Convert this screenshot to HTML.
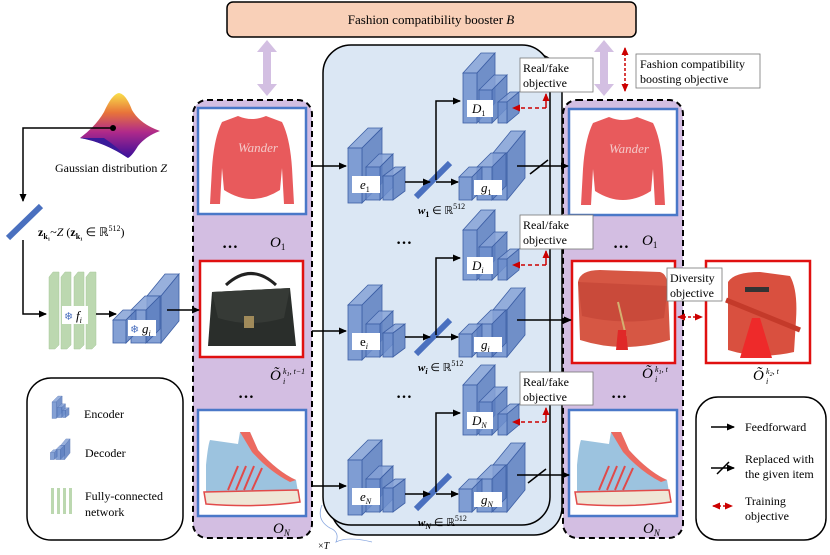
<!DOCTYPE html>
<html><head><meta charset="utf-8"><style>
html,body{margin:0;padding:0;background:#fff;}
svg{display:block;}
text{font-family:"Liberation Serif",serif;fill:#000;}
.m{font-style:italic;}
</style></head><body>
<svg width="830" height="555" viewBox="0 0 830 555" xmlns="http://www.w3.org/2000/svg">
<defs>
<marker id="ah" markerWidth="8" markerHeight="8" refX="7" refY="4" orient="auto" markerUnits="userSpaceOnUse"><path d="M0,0.5 L8,4 L0,7.5 z" fill="#000"/></marker>
<marker id="rh" markerWidth="8" markerHeight="8" refX="7" refY="4" orient="auto-start-reverse" markerUnits="userSpaceOnUse"><path d="M0,0.5 L8,4 L0,7.5 z" fill="#c00"/></marker>
<linearGradient id="gz" x1="0" y1="0" x2="0" y2="1"><stop offset="0" stop-color="#f9e04a"/><stop offset="0.3" stop-color="#e8743a"/><stop offset="0.6" stop-color="#b02a8a"/><stop offset="1" stop-color="#3a0e9a"/></linearGradient>
<g id="enc" stroke="#3d5fa5" stroke-width="0.8" fill-opacity="0.85">
 <polygon points="0,20 20,0 34,0 14,20" fill="#86a2d6"/>
 <polygon points="14,20 34,0 34,55 14,75" fill="#5d7fc0"/>
 <rect x="0" y="20" width="14" height="55" fill="#6f8fcc"/>
 <polygon points="18,39 31,26 45,26 32,39" fill="#86a2d6"/>
 <polygon points="32,39 45,26 45,59 32,72" fill="#5d7fc0"/>
 <rect x="18" y="39" width="14" height="33" fill="#6f8fcc"/>
 <polygon points="35,48 47,39 57,39 45,48" fill="#86a2d6"/>
 <polygon points="45,48 57,39 57,63 45,72" fill="#5d7fc0"/>
 <rect x="35" y="48" width="10" height="24" fill="#6f8fcc"/>
</g>
<g id="dec" stroke="#3d5fa5" stroke-width="0.8" fill-opacity="0.85">
 <polygon points="35,15 53,-7 67,-7 49,15" fill="#86a2d6"/>
 <polygon points="49,15 67,-7 67,40 49,62" fill="#5d7fc0"/>
 <rect x="35" y="15" width="14" height="47" fill="#6f8fcc"/>
 <polygon points="19,29 33,15 48,15 34,29" fill="#86a2d6"/>
 <polygon points="34,29 48,15 48,48 34,62" fill="#5d7fc0"/>
 <rect x="19" y="29" width="15" height="33" fill="#6f8fcc"/>
 <polygon points="1,39 11,29 24,29 14,39" fill="#86a2d6"/>
 <polygon points="14,39 24,29 24,52 14,62" fill="#5d7fc0"/>
 <rect x="1" y="39" width="13" height="23" fill="#6f8fcc"/>
</g>
<g id="dis" stroke="#3d5fa5" stroke-width="0.8" fill-opacity="0.85">
 <polygon points="1,20 19,0 33,0 15,20" fill="#86a2d6"/>
 <polygon points="15,20 33,0 33,50 15,70" fill="#5d7fc0"/>
 <rect x="1" y="20" width="14" height="50" fill="#6f8fcc"/>
 <polygon points="17,37 32,22 45,22 30,37" fill="#86a2d6"/>
 <polygon points="30,37 45,22 45,55 30,70" fill="#5d7fc0"/>
 <rect x="17" y="37" width="13" height="33" fill="#6f8fcc"/>
 <polygon points="36,49 48,39 57,39 45,49" fill="#86a2d6"/>
 <polygon points="45,49 57,39 57,60 45,70" fill="#5d7fc0"/>
 <rect x="36" y="49" width="9" height="21" fill="#6f8fcc"/>
</g>
<g id="shirt">
 <rect x="0" y="0" width="108" height="106" fill="#fff" stroke="#4a78c8" stroke-width="2.5"/>
 <path d="M40,8 Q54,14 68,8 L84,14 Q92,30 94,60 L96,96 L86,96 L84,60 L82,82 Q54,100 26,82 L24,60 L22,96 L12,96 L14,60 Q16,30 24,14 Z" fill="#e85a5c"/>
 <text x="40" y="44" font-size="13" font-style="italic" style="fill:#f4c8c8">Wander</text>
</g>
<g id="shoe">
 <rect x="0" y="0" width="108" height="106" fill="#fff" stroke="#4a78c8" stroke-width="2.5"/>
 <path d="M8,55 Q10,35 12,30 L40,34 L42,22 L52,22 L60,40 Q80,62 98,70 L100,82 L8,84 Z" fill="#9cc3df"/>
 <path d="M42,22 L52,22 L60,40 Q80,62 98,70 L92,72 Q72,62 54,42 Z" fill="#ec6a60"/>
 <path d="M6,82 L100,80 L102,92 Q60,98 8,94 Z" fill="#efe6d6" stroke="#e24a4a" stroke-width="1.5"/>
 <path d="M30,80 L40,56 M38,80 L48,56 M46,80 L56,56 M54,80 L64,58" stroke="#e04a4a" stroke-width="2"/>
</g>
</defs>

<rect x="227" y="2" width="409" height="35" rx="6" fill="#f9d0b8" stroke="#000" stroke-width="1.5"/>
<text x="431" y="24" font-size="13" text-anchor="middle">Fashion compatibility booster <tspan class="m">B</tspan></text>

<g fill="#d3bfe2">
 <polygon points="267,40 277,52 271,52 271,84 277,84 267,96 257,84 263,84 263,52 257,52"/>
 <polygon points="604,40 614,52 608,52 608,84 614,84 604,96 594,84 600,84 600,52 594,52"/>
</g>
<line x1="625" y1="48" x2="625" y2="91" stroke="#c00" stroke-width="1.5" stroke-dasharray="3,2" marker-start="url(#rh)" marker-end="url(#rh)"/>
<rect x="636" y="54" width="124" height="34" fill="#fff" stroke="#777" stroke-width="0.8"/>
<text x="640" y="68" font-size="12">Fashion compatibility</text>
<text x="640" y="83" font-size="12">boosting objective</text>

<rect x="331" y="54" width="231" height="481" rx="28" fill="#dbe7f4" stroke="#000" stroke-width="1.5"/>
<rect x="323" y="45" width="227" height="480" rx="28" fill="#dbe7f4" stroke="#000" stroke-width="1.5"/>

<rect x="193" y="100" width="119" height="438" rx="14" fill="#d3bee2" stroke="#000" stroke-width="2" stroke-dasharray="6,4"/>
<use href="#shirt" x="198" y="108"/>
<text x="222" y="248" font-size="16" font-weight="bold">…</text>
<text x="270" y="247" font-size="15" class="m">O<tspan font-size="9" dy="3" font-style="normal">1</tspan></text>
<rect x="200" y="261" width="103" height="96" fill="#fff" stroke="#e01010" stroke-width="2.5"/>
<path d="M226,285 Q251,262 276,285" fill="none" stroke="#222" stroke-width="3"/>
<path d="M212,292 L290,288 L296,346 L208,346 Z" fill="#2a2e2b"/>
<path d="M212,292 L290,288 L284,318 Q250,328 218,318 Z" fill="#363a36"/>
<rect x="244" y="316" width="10" height="12" fill="#a08a5a"/>
<text x="270" y="380" font-size="15" class="m">Õ</text><text x="283" y="374" font-size="8" class="m">k<tspan font-size="6" dy="2">1</tspan><tspan dy="-2">, t−1</tspan></text><text x="283" y="384" font-size="8" class="m">i</text>
<text x="238" y="398" font-size="16" font-weight="bold">…</text>
<use href="#shoe" x="198" y="410"/>
<text x="273" y="533" font-size="15" class="m">O<tspan font-size="9" dy="3">N</tspan></text>

<rect x="563" y="100" width="120" height="438" rx="14" fill="#d3bee2" stroke="#000" stroke-width="2" stroke-dasharray="6,4"/>
<use href="#shirt" x="569" y="109"/>
<text x="613" y="248" font-size="16" font-weight="bold">…</text>
<text x="642" y="245" font-size="15" class="m">O<tspan font-size="9" dy="3" font-style="normal">1</tspan></text>
<rect x="572" y="261" width="103" height="102" fill="#fff" stroke="#e01010" stroke-width="2.5"/>
<path d="M578,282 Q580,270 600,270 L660,272 Q668,274 668,290 L670,340 Q624,354 580,340 Z" fill="#d65744"/>
<path d="M578,282 L668,286 L664,318 Q624,326 582,316 Z" fill="#c94a3a"/>
<path d="M618,302 L626,336" stroke="#d4b070" stroke-width="2"/>
<path d="M618,330 L626,330 L628,350 L616,350 Z" fill="#e02828"/>
<text x="642" y="378" font-size="15" class="m">Õ</text><text x="655" y="372" font-size="8" class="m">k<tspan font-size="6" dy="2">1</tspan><tspan dy="-2">, t</tspan></text><text x="655" y="382" font-size="8" class="m">i</text>
<text x="611" y="398" font-size="16" font-weight="bold">…</text>
<use href="#shoe" x="569" y="410"/>
<text x="643" y="533" font-size="15" class="m">O<tspan font-size="9" dy="3">N</tspan></text>

<rect x="706" y="261" width="104" height="102" fill="#fff" stroke="#e01010" stroke-width="2.5"/>
<path d="M728,282 Q734,272 760,272 L790,276 Q798,290 796,320 L794,352 Q760,360 728,350 Z" fill="#d9503f"/>
<path d="M726,300 L800,330" stroke="#c43a2a" stroke-width="5"/>
<path d="M752,318 L740,358 L772,358 L760,318 Z" fill="#ee2a2a"/>
<rect x="745" y="287" width="24" height="5" fill="#333"/>
<text x="753" y="380" font-size="15" class="m">Õ</text><text x="766" y="374" font-size="8" class="m">k<tspan font-size="6" dy="2">2</tspan><tspan dy="-2">, t</tspan></text><text x="766" y="384" font-size="8" class="m">i</text>
<rect x="667" y="268" width="55" height="33" fill="#fff" stroke="#777" stroke-width="0.8"/>
<text x="670" y="282" font-size="12">Diversity</text>
<text x="670" y="297" font-size="12">objective</text>
<line x1="678" y1="317" x2="702" y2="317" stroke="#c00" stroke-width="1.5" stroke-dasharray="3,2" marker-start="url(#rh)" marker-end="url(#rh)"/>

<g>
 <use href="#enc" x="348" y="128"/>
 <rect x="352" y="176" width="28" height="17" fill="#fff"/>
 <text x="360" y="189" font-size="13" class="m">e<tspan font-size="8" dy="3" font-style="normal">1</tspan></text>
 <use href="#dis" x="462" y="53"/>
 <rect x="467" y="100" width="26" height="17" fill="#fff"/>
 <text x="472" y="113" font-size="13" class="m">D<tspan font-size="8" dy="3" font-style="normal">1</tspan></text>
 <use href="#dec" x="458" y="138"/>
 <rect x="474" y="180" width="28" height="15" fill="#fff"/>
 <text x="481" y="192" font-size="13" class="m">g<tspan font-size="8" dy="3" font-style="normal">1</tspan></text>
 <line x1="416" y1="197" x2="450" y2="163" stroke="#4a70bf" stroke-width="6"/>
 <text x="418" y="214" font-size="11" font-weight="bold" class="m">w<tspan font-size="8" dy="3" font-style="normal">1</tspan><tspan dy="-3" font-weight="normal" font-style="normal"> ∈ ℝ</tspan><tspan font-size="8" dy="-5" font-weight="normal" font-style="normal">512</tspan></text>
 <line x1="312" y1="166" x2="346" y2="166" stroke="#000" stroke-width="1.5" marker-end="url(#ah)"/>
 <line x1="405" y1="182" x2="430" y2="182" stroke="#000" stroke-width="1.5" marker-end="url(#ah)"/>
 <line x1="436" y1="182" x2="458" y2="182" stroke="#000" stroke-width="1.5" marker-end="url(#ah)"/>
 <polyline points="436,180 436,101 460,101" fill="none" stroke="#000" stroke-width="1.5" marker-end="url(#ah)"/>
 <line x1="517" y1="166" x2="568" y2="166" stroke="#000" stroke-width="1.5" marker-end="url(#ah)"/>
 <line x1="530" y1="174" x2="548" y2="160" stroke="#000" stroke-width="1.5"/>
 <rect x="520" y="58" width="73" height="34" fill="#fff" stroke="#777" stroke-width="0.8"/>
 <text x="523" y="72" font-size="12">Real/fake</text>
 <text x="523" y="87" font-size="12">objective</text>
 <polyline points="546,108 546,94" fill="none" stroke="#c00" stroke-width="1.5" marker-end="url(#rh)"/>
 <line x1="546" y1="108" x2="513" y2="108" stroke="#c00" stroke-width="1.5" stroke-dasharray="4,3" marker-end="url(#rh)"/>
</g>
<g transform="translate(0,157)">
 <use href="#enc" x="348" y="128"/>
 <rect x="352" y="176" width="28" height="17" fill="#fff"/>
 <text x="360" y="189" font-size="13">e<tspan font-size="8" dy="3" class="m">i</tspan></text>
 <use href="#dis" x="462" y="53"/>
 <rect x="467" y="100" width="26" height="17" fill="#fff"/>
 <text x="472" y="113" font-size="13" class="m">D<tspan font-size="8" dy="3">i</tspan></text>
 <use href="#dec" x="458" y="138"/>
 <rect x="474" y="180" width="28" height="15" fill="#fff"/>
 <text x="481" y="192" font-size="13" class="m">g<tspan font-size="8" dy="3">i</tspan></text>
 <line x1="416" y1="197" x2="450" y2="163" stroke="#4a70bf" stroke-width="6"/>
 <text x="418" y="214" font-size="11" font-weight="bold" class="m">w<tspan font-size="8" dy="3">i</tspan><tspan dy="-3" font-weight="normal" font-style="normal"> ∈ ℝ</tspan><tspan font-size="8" dy="-5" font-weight="normal" font-style="normal">512</tspan></text>
 <line x1="312" y1="174" x2="346" y2="174" stroke="#000" stroke-width="1.5" marker-end="url(#ah)"/>
 <line x1="405" y1="180" x2="430" y2="180" stroke="#000" stroke-width="1.5" marker-end="url(#ah)"/>
 <line x1="436" y1="180" x2="458" y2="180" stroke="#000" stroke-width="1.5" marker-end="url(#ah)"/>
 <polyline points="436,178 436,101 460,101" fill="none" stroke="#000" stroke-width="1.5" marker-end="url(#ah)"/>
 <line x1="517" y1="163" x2="571" y2="163" stroke="#000" stroke-width="1.5" marker-end="url(#ah)"/>
 <rect x="520" y="58" width="73" height="34" fill="#fff" stroke="#777" stroke-width="0.8"/>
 <text x="523" y="72" font-size="12">Real/fake</text>
 <text x="523" y="87" font-size="12">objective</text>
 <polyline points="546,108 546,94" fill="none" stroke="#c00" stroke-width="1.5" marker-end="url(#rh)"/>
 <line x1="546" y1="108" x2="513" y2="108" stroke="#c00" stroke-width="1.5" stroke-dasharray="4,3" marker-end="url(#rh)"/>
</g>
<g transform="translate(0,312)">
 <use href="#enc" x="348" y="128"/>
 <rect x="352" y="176" width="28" height="17" fill="#fff"/>
 <text x="360" y="189" font-size="13" class="m">e<tspan font-size="8" dy="3">N</tspan></text>
 <use href="#dis" x="462" y="53"/>
 <rect x="467" y="100" width="26" height="17" fill="#fff"/>
 <text x="472" y="113" font-size="13" class="m">D<tspan font-size="8" dy="3">N</tspan></text>
 <use href="#dec" x="458" y="138"/>
 <rect x="474" y="180" width="28" height="15" fill="#fff"/>
 <text x="481" y="192" font-size="13" class="m">g<tspan font-size="8" dy="3">N</tspan></text>
 <line x1="416" y1="197" x2="450" y2="163" stroke="#4a70bf" stroke-width="6"/>
 <text x="418" y="214" font-size="11" font-weight="bold" class="m">w<tspan font-size="8" dy="3">N</tspan><tspan dy="-3" font-weight="normal" font-style="normal"> ∈ ℝ</tspan><tspan font-size="8" dy="-5" font-weight="normal" font-style="normal">512</tspan></text>
 <line x1="312" y1="174" x2="346" y2="174" stroke="#000" stroke-width="1.5" marker-end="url(#ah)"/>
 <line x1="405" y1="182" x2="430" y2="182" stroke="#000" stroke-width="1.5" marker-end="url(#ah)"/>
 <line x1="436" y1="182" x2="458" y2="182" stroke="#000" stroke-width="1.5" marker-end="url(#ah)"/>
 <polyline points="436,180 436,101 460,101" fill="none" stroke="#000" stroke-width="1.5" marker-end="url(#ah)"/>
 <line x1="517" y1="163" x2="569" y2="163" stroke="#000" stroke-width="1.5" marker-end="url(#ah)"/>
 <line x1="528" y1="171" x2="546" y2="157" stroke="#000" stroke-width="1.5"/>
 <rect x="520" y="60" width="73" height="33" fill="#fff" stroke="#777" stroke-width="0.8"/>
 <text x="523" y="74" font-size="12">Real/fake</text>
 <text x="523" y="89" font-size="12">objective</text>
 <polyline points="546,110 546,96" fill="none" stroke="#c00" stroke-width="1.5" marker-end="url(#rh)"/>
 <line x1="546" y1="110" x2="513" y2="110" stroke="#c00" stroke-width="1.5" stroke-dasharray="4,3" marker-end="url(#rh)"/>
</g>
<text x="396" y="244" font-size="16" font-weight="bold">…</text>
<text x="396" y="398" font-size="16" font-weight="bold">…</text>

<path d="M322,505 Q316,520 330,528 Q340,532 336,542 Q348,536 372,542" fill="none" stroke="#8aa8e0" stroke-width="0.8"/>
<text x="318" y="549" font-size="10">×<tspan class="m">T</tspan></text>

<!-- gaussian -->
<path d="M80,138 Q96,126 104,112 Q112,94 119,93 Q126,94 132,110 Q140,124 160,131 Q146,136 138,146 Q132,156 128,158 Q104,142 80,138 Z" fill="url(#gz)"/>
<path d="M80,138 Q104,142 128,158 Q116,146 104,138 Z" fill="#3a1a9a"/>
<text x="55" y="172" font-size="12">Gaussian distribution <tspan class="m">Z</tspan></text>
<circle cx="113" cy="128" r="3" fill="#000"/>
<polyline points="113,128 23,128 23,201" fill="none" stroke="#000" stroke-width="1.5" marker-end="url(#ah)"/>
<line x1="8" y1="238" x2="41" y2="206" stroke="#4a70bf" stroke-width="6"/>
<text x="38" y="236" font-size="12"><tspan font-weight="bold">z</tspan><tspan font-size="8" dy="3" font-weight="bold">k₁</tspan><tspan dy="-3">~</tspan><tspan class="m">Z</tspan> (<tspan font-weight="bold">z</tspan><tspan font-size="8" dy="3" font-weight="bold">k₁</tspan><tspan dy="-3"> ∈ ℝ</tspan><tspan font-size="8" dy="-5">512</tspan><tspan dy="5">)</tspan></text>
<polyline points="23,240 23,314 46,314" fill="none" stroke="#000" stroke-width="1.5" marker-end="url(#ah)"/>

<g fill="#bcd8b0" stroke="#a8c89c" stroke-width="0.5">
 <polygon points="49,277 53,272 59,272 59,345 55,349 49,349"/>
 <polygon points="61,277 65,272 71,272 71,345 67,349 61,349"/>
 <polygon points="74,277 78,272 84,272 84,345 80,349 74,349"/>
 <polygon points="86,277 90,272 96,272 96,345 92,349 86,349"/>
</g>
<rect x="62" y="306" width="26" height="18" fill="#fff"/>
<text x="64" y="320" font-size="11" style="fill:#4a70bf">❄</text>
<text x="76" y="320" font-size="13" class="m">f<tspan font-size="8" dy="3">i</tspan></text>
<line x1="96" y1="314" x2="116" y2="314" stroke="#000" stroke-width="1.5" marker-end="url(#ah)"/>
<use href="#dec" x="112" y="281"/>
<rect x="128" y="320" width="28" height="16" fill="#fff"/>
<text x="130" y="333" font-size="11" style="fill:#4a70bf">❄</text>
<text x="142" y="333" font-size="13" class="m">g<tspan font-size="8" dy="3">i</tspan></text>
<line x1="167" y1="310" x2="199" y2="310" stroke="#000" stroke-width="1.5" marker-end="url(#ah)"/>

<rect x="27" y="378" width="156" height="162" rx="24" fill="#fff" stroke="#000" stroke-width="1.5"/>
<g transform="translate(52,396) scale(0.3)"><use href="#enc"/></g>
<text x="84" y="418" font-size="12">Encoder</text>
<g transform="translate(50,441) scale(0.3)"><use href="#dec"/></g>
<text x="85" y="457" font-size="12">Decoder</text>
<g fill="#bcd8b0"><rect x="51" y="488" width="3" height="26"/><rect x="57" y="488" width="3" height="26"/><rect x="63" y="488" width="3" height="26"/><rect x="69" y="488" width="3" height="26"/></g>
<text x="85" y="500" font-size="12">Fully-connected</text>
<text x="85" y="516" font-size="12">network</text>

<rect x="696" y="397" width="130" height="143" rx="22" fill="#fff" stroke="#000" stroke-width="1.5"/>
<line x1="711" y1="427" x2="734" y2="427" stroke="#000" stroke-width="1.5" marker-end="url(#ah)"/>
<text x="745" y="431" font-size="12">Feedforward</text>
<line x1="711" y1="468" x2="734" y2="468" stroke="#000" stroke-width="1.5" marker-end="url(#ah)"/>
<line x1="717" y1="474" x2="729" y2="462" stroke="#000" stroke-width="1.5"/>
<text x="745" y="463" font-size="12">Replaced with</text>
<text x="745" y="478" font-size="12">the given item</text>
<line x1="713" y1="506" x2="732" y2="506" stroke="#c00" stroke-width="1.5" stroke-dasharray="3,2" marker-start="url(#rh)" marker-end="url(#rh)"/>
<text x="745" y="505" font-size="12">Training</text>
<text x="745" y="520" font-size="12">objective</text>
</svg>
</body></html>
